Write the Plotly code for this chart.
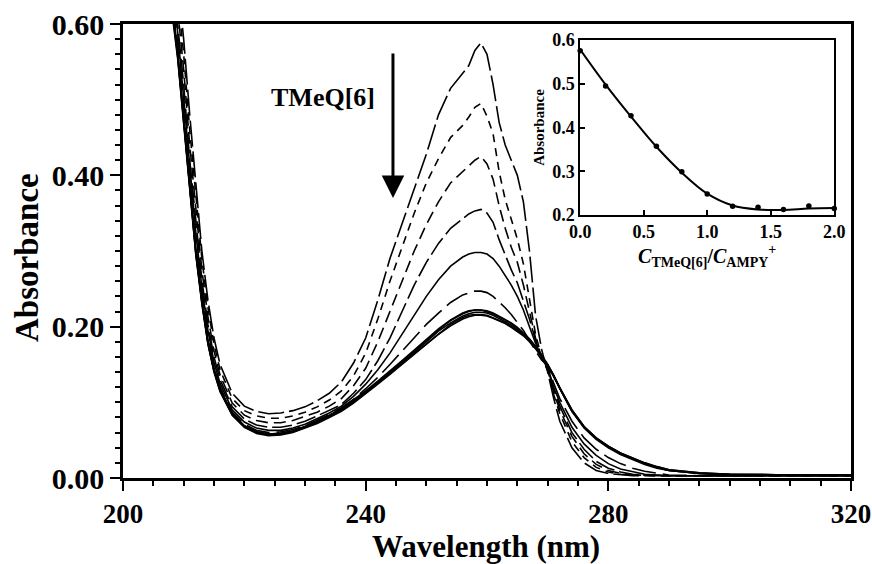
import plotly.graph_objects as go

# ---------------- data ----------------
wavelength = [206, 208, 209, 210, 211, 212, 213, 214, 215, 216,
              218, 220, 222, 224, 226, 228, 230, 232, 234, 236,
              238, 240, 242, 244, 246, 248, 250, 252, 254, 256,
              257, 258, 259, 260, 261, 262, 263, 264, 265, 266,
              267, 268, 269, 270, 271, 272, 274, 276, 278, 280,
              282, 284, 286, 288, 290, 295, 300, 310, 320]

abs_0 = [0.88, 0.72, 0.66, 0.58, 0.48, 0.385, 0.30, 0.235, 0.185, 0.15,
         0.112, 0.095, 0.088, 0.085, 0.086, 0.089, 0.094, 0.102, 0.112, 0.127,
         0.152, 0.185, 0.235, 0.29, 0.337, 0.383, 0.428, 0.48, 0.515, 0.535,
         0.545, 0.565, 0.575, 0.56, 0.52, 0.47, 0.44, 0.42, 0.40, 0.365,
         0.30, 0.215, 0.17, 0.14, 0.105, 0.075, 0.04, 0.02, 0.01, 0.006,
         0.004, 0.003, 0.003, 0.003, 0.003, 0.003, 0.003, 0.003, 0.003]
abs_1 = [0.87, 0.70, 0.64, 0.56, 0.46, 0.37, 0.29, 0.225, 0.177, 0.143,
         0.105, 0.089, 0.082, 0.079, 0.079, 0.082, 0.087, 0.094, 0.103, 0.115,
         0.135, 0.165, 0.21, 0.26, 0.305, 0.35, 0.39, 0.422, 0.45, 0.466,
         0.477, 0.49, 0.495, 0.478, 0.455, 0.405, 0.368, 0.342, 0.316, 0.283,
         0.235, 0.19, 0.16, 0.142, 0.11, 0.085, 0.048, 0.027, 0.014, 0.008,
         0.005, 0.004, 0.003, 0.003, 0.003, 0.003, 0.003, 0.003, 0.003]
abs_2 = [0.86, 0.69, 0.62, 0.54, 0.44, 0.355, 0.275, 0.213, 0.168, 0.136,
         0.099, 0.083, 0.076, 0.073, 0.073, 0.076, 0.081, 0.087, 0.095, 0.105,
         0.122, 0.145, 0.18, 0.22, 0.26, 0.30, 0.335, 0.365, 0.39, 0.405,
         0.413, 0.42, 0.425, 0.415, 0.395, 0.36, 0.33, 0.305, 0.285, 0.255,
         0.22, 0.185, 0.16, 0.143, 0.113, 0.09, 0.055, 0.032, 0.018, 0.01,
         0.006, 0.004, 0.004, 0.003, 0.003, 0.003, 0.003, 0.003, 0.003]
abs_3 = [0.85, 0.67, 0.60, 0.52, 0.42, 0.34, 0.262, 0.203, 0.16, 0.13,
         0.094, 0.078, 0.07, 0.067, 0.067, 0.07, 0.075, 0.082, 0.089, 0.097,
         0.112, 0.13, 0.155, 0.185, 0.22, 0.255, 0.285, 0.31, 0.33, 0.343,
         0.349, 0.353, 0.355, 0.35, 0.338, 0.315, 0.295, 0.275, 0.258, 0.235,
         0.21, 0.182, 0.16, 0.145, 0.117, 0.095, 0.06, 0.038, 0.022, 0.013,
         0.008, 0.005, 0.004, 0.003, 0.003, 0.003, 0.003, 0.003, 0.003]
abs_4 = [0.84, 0.66, 0.59, 0.50, 0.405, 0.325, 0.252, 0.195, 0.153, 0.125,
         0.09, 0.074, 0.066, 0.063, 0.063, 0.066, 0.071, 0.078, 0.086, 0.095,
         0.108, 0.124, 0.143, 0.165, 0.19, 0.215, 0.24, 0.262, 0.28, 0.292,
         0.296, 0.298, 0.298, 0.296, 0.29, 0.28, 0.268, 0.255, 0.24, 0.222,
         0.20, 0.178, 0.16, 0.147, 0.12, 0.10, 0.067, 0.045, 0.03, 0.019,
         0.012, 0.008, 0.005, 0.004, 0.003, 0.003, 0.003, 0.003, 0.003]
abs_5 = [0.83, 0.645, 0.575, 0.485, 0.39, 0.31, 0.243, 0.188, 0.148, 0.12,
         0.087, 0.071, 0.063, 0.06, 0.061, 0.064, 0.069, 0.076, 0.084, 0.093,
         0.104, 0.118, 0.133, 0.15, 0.168, 0.185, 0.203, 0.218, 0.232, 0.242,
         0.245, 0.247, 0.247, 0.245, 0.24, 0.233, 0.225, 0.216, 0.206, 0.195,
         0.182, 0.168, 0.156, 0.148, 0.125, 0.105, 0.075, 0.053, 0.038, 0.027,
         0.019, 0.013, 0.009, 0.006, 0.004, 0.003, 0.003, 0.003, 0.003]
abs_6 = [0.82, 0.635, 0.565, 0.475, 0.383, 0.303, 0.237, 0.182, 0.145, 0.118,
         0.085, 0.069, 0.061, 0.058, 0.059, 0.062, 0.068, 0.074, 0.082, 0.091,
         0.102, 0.114, 0.127, 0.14, 0.154, 0.168, 0.182, 0.196, 0.208, 0.217,
         0.22, 0.222, 0.222, 0.221, 0.218, 0.214, 0.21, 0.205, 0.199, 0.192,
         0.184, 0.174, 0.162, 0.15, 0.135, 0.118, 0.088, 0.066, 0.051, 0.04,
         0.031, 0.024, 0.018, 0.013, 0.01, 0.006, 0.004, 0.004, 0.004]
abs_7 = [0.81, 0.63, 0.56, 0.47, 0.378, 0.298, 0.233, 0.179, 0.142, 0.116,
         0.084, 0.068, 0.06, 0.057, 0.058, 0.061, 0.067, 0.073, 0.081, 0.09,
         0.101, 0.113, 0.126, 0.139, 0.152, 0.166, 0.18, 0.194, 0.205, 0.214,
         0.217, 0.219, 0.219, 0.218, 0.215, 0.211, 0.207, 0.202, 0.196, 0.19,
         0.182, 0.172, 0.161, 0.149, 0.134, 0.118, 0.088, 0.067, 0.052, 0.041,
         0.032, 0.025, 0.019, 0.014, 0.01, 0.006, 0.005, 0.004, 0.004]
abs_8 = [0.80, 0.62, 0.555, 0.465, 0.374, 0.295, 0.23, 0.177, 0.14, 0.114,
         0.083, 0.067, 0.059, 0.056, 0.057, 0.06, 0.066, 0.072, 0.08, 0.088,
         0.099, 0.111, 0.124, 0.137, 0.15, 0.163, 0.177, 0.19, 0.201, 0.21,
         0.213, 0.215, 0.215, 0.214, 0.211, 0.208, 0.204, 0.199, 0.194, 0.188,
         0.18, 0.171, 0.16, 0.149, 0.135, 0.119, 0.09, 0.068, 0.053, 0.042,
         0.033, 0.026, 0.02, 0.015, 0.011, 0.007, 0.005, 0.004, 0.004]
abs_9 = [0.815, 0.63, 0.562, 0.472, 0.38, 0.30, 0.235, 0.18, 0.143, 0.117,
         0.085, 0.069, 0.061, 0.058, 0.059, 0.062, 0.068, 0.075, 0.083, 0.092,
         0.103, 0.115, 0.128, 0.141, 0.155, 0.169, 0.183, 0.197, 0.209, 0.218,
         0.221, 0.222, 0.222, 0.22, 0.217, 0.213, 0.209, 0.204, 0.198, 0.191,
         0.183, 0.173, 0.162, 0.15, 0.136, 0.119, 0.089, 0.067, 0.052, 0.041,
         0.032, 0.025, 0.019, 0.014, 0.01, 0.006, 0.004, 0.004, 0.004]
abs_10 = [0.805, 0.625, 0.558, 0.468, 0.376, 0.297, 0.232, 0.178, 0.141, 0.115,
          0.084, 0.068, 0.06, 0.057, 0.058, 0.061, 0.067, 0.073, 0.081, 0.089,
          0.10, 0.112, 0.125, 0.138, 0.151, 0.165, 0.178, 0.191, 0.203, 0.212,
          0.215, 0.216, 0.216, 0.215, 0.212, 0.209, 0.205, 0.20, 0.195, 0.189,
          0.181, 0.172, 0.161, 0.149, 0.135, 0.119, 0.09, 0.068, 0.053, 0.042,
          0.033, 0.026, 0.02, 0.015, 0.011, 0.007, 0.005, 0.004, 0.004]

spectra = [abs_0, abs_1, abs_2, abs_3, abs_4, abs_5, abs_6, abs_7, abs_8, abs_9, abs_10]
dash_styles = ["26px,5px", "8px,6px", "12px,6px", "20px,5px", "solid",
               "24px,7px", "solid", "solid", "solid", "solid", "solid"]

# inset: absorbance at peak vs ratio
ratio = [0.0, 0.2, 0.4, 0.6, 0.8, 1.0, 1.2, 1.4, 1.6, 1.8, 2.0]
inset_abs = [0.575, 0.495, 0.427, 0.357, 0.299, 0.248, 0.220, 0.218, 0.213, 0.221, 0.215]
fit_abs = [0.578, 0.498, 0.425, 0.356, 0.297, 0.249, 0.222, 0.213, 0.212, 0.215, 0.216]

FONT = "Liberation Serif"

fig = go.Figure()
for ys, d in zip(spectra, dash_styles):
    fig.add_trace(go.Scatter(x=wavelength, y=ys, mode="lines",
                             line=dict(color="black", width=1.6, dash=d),
                             showlegend=False, hoverinfo="skip"))

fig.add_trace(go.Scatter(x=ratio, y=fit_abs, mode="lines", xaxis="x2", yaxis="y2",
                         line=dict(color="black", width=2, shape="spline"),
                         showlegend=False, hoverinfo="skip"))
fig.add_trace(go.Scatter(x=ratio, y=inset_abs, mode="markers", xaxis="x2", yaxis="y2",
                         marker=dict(color="black", size=5.5),
                         showlegend=False, hoverinfo="skip", cliponaxis=False))

W, H = 872, 564
L, R, T, B = 123, 21, 24, 86
PW, PH = W - L - R, H - T - B

fig.update_layout(
    width=W, height=H,
    margin=dict(l=L, r=R, t=T, b=B, autoexpand=False),
    paper_bgcolor="white", plot_bgcolor="white",
    font=dict(family=FONT, color="black"),
    xaxis=dict(range=[200, 320], tickvals=[200, 240, 280, 320], automargin=False,
               ticks="outside", ticklen=10, tickwidth=2, tickcolor="black",
               minor=dict(dtick=5, ticks="outside", ticklen=5, tickwidth=1.5, tickcolor="black"),
               showline=True, linewidth=2.5, linecolor="black", mirror=True,
               showgrid=False, zeroline=False,
               tickfont=dict(family=FONT, size=27, weight="bold", color="black")),
    yaxis=dict(range=[0, 0.6], tickvals=[0, 0.2, 0.4, 0.6], tickformat=".2f", automargin=False,
               ticks="outside", ticklen=10, tickwidth=2, tickcolor="black",
               minor=dict(dtick=0.02, ticks="outside", ticklen=5, tickwidth=1.5, tickcolor="black"),
               showline=True, linewidth=2.5, linecolor="black", mirror=True,
               showgrid=False, zeroline=False,
               tickfont=dict(family=FONT, size=30, weight="bold", color="black")),
    xaxis2=dict(domain=[0.628, 0.977], anchor="y2", range=[0, 2], automargin=False,
                tickvals=[0, 0.5, 1.0, 1.5, 2.0], tickformat=".1f",
                ticks="inside", ticklen=5, tickwidth=1.5, tickcolor="black",
                showline=True, linewidth=1.5, linecolor="black", mirror=True,
                showgrid=False, zeroline=False,
                tickfont=dict(family=FONT, size=18, weight="bold", color="black"),
                title=dict(text="<i>C</i><sub>TMeQ[6]</sub>/<i>C</i><sub>AMPY</sub><sup>+</sup>",
                           standoff=0,
                           font=dict(family=FONT, size=20, weight="bold", color="black"))),
    yaxis2=dict(domain=[0.579, 0.965], anchor="x2", range=[0.2, 0.6], automargin=False,
                tickvals=[0.2, 0.3, 0.4, 0.5, 0.6], tickformat=".1f",
                ticks="inside", ticklen=5, tickwidth=1.5, tickcolor="black",
                showline=True, linewidth=1.5, linecolor="black", mirror=True,
                showgrid=False, zeroline=False,
                tickfont=dict(family=FONT, size=18, weight="bold", color="black"),
                title=dict(text="Absorbance", standoff=4,
                           font=dict(family=FONT, size=15, weight="bold", color="black"))),
)

# main axis titles (placed in paper coordinates)
fig.add_annotation(text="Wavelength (nm)", xref="paper", yref="paper",
                   x=(486 - L) / PW, y=-(546 - (H - B)) / PH, showarrow=False,
                   xanchor="center", yanchor="middle",
                   font=dict(family=FONT, size=31, weight="bold", color="black"))
fig.add_annotation(text="Absorbance", xref="paper", yref="paper",
                   x=(27 - L) / PW, y=((H - B) - 258) / PH, showarrow=False, textangle=-90,
                   xanchor="center", yanchor="middle",
                   font=dict(family=FONT, size=33, weight="bold", color="black"))

fig.add_annotation(x=233, y=0.503, xref="x", yref="y", text="TMeQ[6]", showarrow=False,
                   font=dict(family=FONT, size=26, weight="bold", color="black"))
fig.add_annotation(x=244.5, y=0.37, ax=244.5, ay=0.563, xref="x", yref="y",
                   axref="x", ayref="y", text="", showarrow=True,
                   arrowhead=2, arrowsize=1.5, arrowwidth=3, arrowcolor="black")

fig.write_html("out.html", config={"displayModeBar": False},
               post_script="document.body.style.margin='0';document.body.style.overflow='hidden';")
